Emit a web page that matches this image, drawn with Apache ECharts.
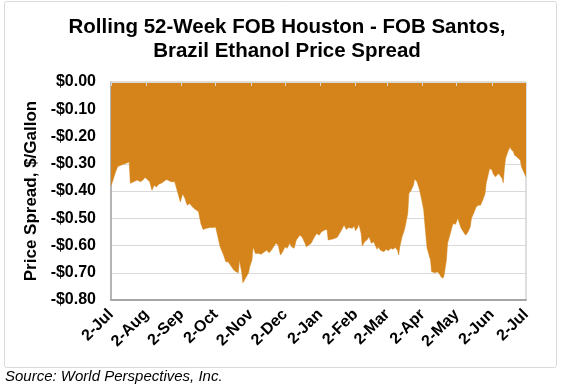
<!DOCTYPE html>
<html>
<head>
<meta charset="utf-8">
<script src="https://cdn.jsdelivr.net/npm/echarts@6/dist/echarts.min.js"></script>
<style>
html,body{margin:0;padding:0;background:#fff;}
#chart{width:563px;height:386px;}
</style>
</head>
<body>
<div id="chart"></div>
<script>
// Days since 2-Jul (start of rolling 52-week window)
const dayOffsets = [0,1,4,6,7,9,12,14,16,17,20,23,26,28,30,32,34,36,38,40,42,45,47,49,51,53,56,59,61,63,65,67,69,71,73,75,77,79,81,84,87,90,92,94,96,99,101,103,105,108,110,112,113,115,116,119,121,122,124,125,127,128,130,132,135,137,139,141,143,145,147,149,151,153,155,157,159,161,163,166,168,170,172,174,176,179,181,183,185,188,190,191,193,196,199,201,203,205,207,209,212,214,215,217,218,220,221,223,225,227,229,231,234,235,237,240,242,244,246,248,250,252,253,254,256,258,259,261,262,264,266,267,269,271,273,275,276,278,281,282,283,285,287,289,290,292,293,295,296,298,300,301,303,305,306,308,310,312,314,316,317,319,321,323,325,327,329,330,332,333,335,336,338,339,341,342,344,345,346,347,349,351,352,354,355,357,358,360,361,363,365];
// Price spread, $/gallon
const spreads = [-0.38,-0.37,-0.33,-0.31,-0.315,-0.305,-0.30,-0.297,-0.294,-0.372,-0.366,-0.36,-0.366,-0.36,-0.35,-0.358,-0.366,-0.397,-0.379,-0.385,-0.375,-0.37,-0.363,-0.358,-0.362,-0.366,-0.366,-0.41,-0.44,-0.41,-0.427,-0.452,-0.446,-0.455,-0.464,-0.47,-0.476,-0.519,-0.541,-0.537,-0.534,-0.534,-0.532,-0.568,-0.605,-0.635,-0.66,-0.66,-0.672,-0.69,-0.696,-0.70,-0.653,-0.70,-0.737,-0.715,-0.70,-0.678,-0.653,-0.605,-0.629,-0.635,-0.629,-0.632,-0.623,-0.617,-0.627,-0.617,-0.605,-0.592,-0.598,-0.635,-0.623,-0.605,-0.61,-0.592,-0.605,-0.61,-0.58,-0.562,-0.568,-0.586,-0.605,-0.598,-0.592,-0.568,-0.556,-0.562,-0.55,-0.543,-0.541,-0.58,-0.578,-0.575,-0.57,-0.556,-0.541,-0.525,-0.541,-0.534,-0.537,-0.529,-0.546,-0.534,-0.521,-0.556,-0.602,-0.586,-0.58,-0.568,-0.592,-0.586,-0.614,-0.605,-0.617,-0.623,-0.614,-0.619,-0.61,-0.614,-0.607,-0.617,-0.635,-0.605,-0.568,-0.543,-0.525,-0.482,-0.409,-0.397,-0.379,-0.356,-0.365,-0.39,-0.427,-0.47,-0.52,-0.61,-0.653,-0.696,-0.693,-0.70,-0.696,-0.705,-0.714,-0.72,-0.708,-0.653,-0.592,-0.562,-0.531,-0.519,-0.522,-0.50,-0.513,-0.537,-0.55,-0.562,-0.55,-0.531,-0.50,-0.482,-0.46,-0.452,-0.452,-0.433,-0.409,-0.372,-0.336,-0.317,-0.322,-0.336,-0.348,-0.342,-0.336,-0.336,-0.354,-0.37,-0.317,-0.281,-0.256,-0.238,-0.248,-0.256,-0.269,-0.275,-0.269,-0.287,-0.311,-0.33,-0.348];
// Tick positions (days since 2-Jul) and their labels
const tickDays = [0,31,62,92,123,153,184,215,243,274,304,335,365];
const tickLabels = ['2-Jul','2-Aug','2-Sep','2-Oct','2-Nov','2-Dec','2-Jan','2-Feb','2-Mar','2-Apr','2-May','2-Jun','2-Jul'];

const titleLines = ['Rolling 52-Week FOB Houston - FOB Santos,', 'Brazil Ethanol Price Spread'];
const yAxisName = 'Price Spread, $/Gallon';
const sourceText = 'Source: World Perspectives, Inc.';

const chart = echarts.init(document.getElementById('chart'), null, {renderer: 'canvas'});
const FONT = '"Liberation Sans", Arial, sans-serif';
const seriesData = dayOffsets.map((d, i) => [d, spreads[i]]);

chart.setOption({
  animation: false,
  backgroundColor: '#fff',
  title: {
    text: titleLines.join('\n'),
    left: 282, top: 11, textAlign: 'center',
    textStyle: {fontFamily: FONT, fontSize: 20.5, fontWeight: 'bold', color: '#000', lineHeight: 23.5}
  },
  graphic: [
    {type: 'rect', shape: {x: 4.5, y: 1.5, width: 552, height: 366, r: 2}, style: {fill: null, stroke: '#d9d9d9', lineWidth: 1}, z: -1},
    {type: 'text', left: 5, top: 369, style: {text: sourceText, font: 'italic 15px ' + FONT, fill: '#000'}}
  ],
  grid: {left: 111, right: 37, top: 82, bottom: 86, show: true, borderColor: '#bfbfbf', borderWidth: 1, backgroundColor: '#fff'},
  xAxis: [
    {
      type: 'value', min: 0, max: 365, position: 'bottom',
      axisLine: {show: true, onZero: false, lineStyle: {color: '#a6a6a6', width: 2}},
      axisTick: {show: false},
      splitLine: {show: false},
      axisLabel: {
        customValues: tickDays, rotate: 45, margin: 12,
        formatter: v => tickLabels[tickDays.indexOf(Math.round(v))] || '',
        fontFamily: FONT, fontSize: 16, fontWeight: 'bold', color: '#000'
      }
    },
    {
      type: 'value', min: 0, max: 365, position: 'top', z: 10,
      axisLine: {show: true, onZero: false, lineStyle: {color: '#d9d9d9', width: 1}},
      axisTick: {show: true, inside: true, length: 4, customValues: tickDays, lineStyle: {color: '#d9d9d9', width: 1}},
      axisLabel: {show: false},
      splitLine: {show: false}
    }
  ],
  yAxis: {
    type: 'value', min: -0.8, max: 0, interval: 0.1,
    name: yAxisName, nameLocation: 'middle', nameGap: 67,
    nameTextStyle: {fontFamily: FONT, fontSize: 17, fontWeight: 'bold', color: '#000'},
    axisLine: {show: true, lineStyle: {color: '#a6a6a6', width: 1.5}},
    axisTick: {show: false},
    splitLine: {show: true, lineStyle: {color: '#d9d9d9', width: 1}},
    axisLabel: {
      margin: 15,
      formatter: v => (v < -1e-9 ? '-' : '') + '$' + Math.abs(v).toFixed(2),
      fontFamily: FONT, fontSize: 16, fontWeight: 'bold', color: '#000'
    }
  },
  series: [{
    type: 'line', xAxisIndex: 0, data: seriesData, showSymbol: false,
    lineStyle: {color: '#D4841A', width: 0.5},
    areaStyle: {color: '#D4841A', opacity: 1, origin: 'end'}
  }]
});
</script>
</body>
</html>
